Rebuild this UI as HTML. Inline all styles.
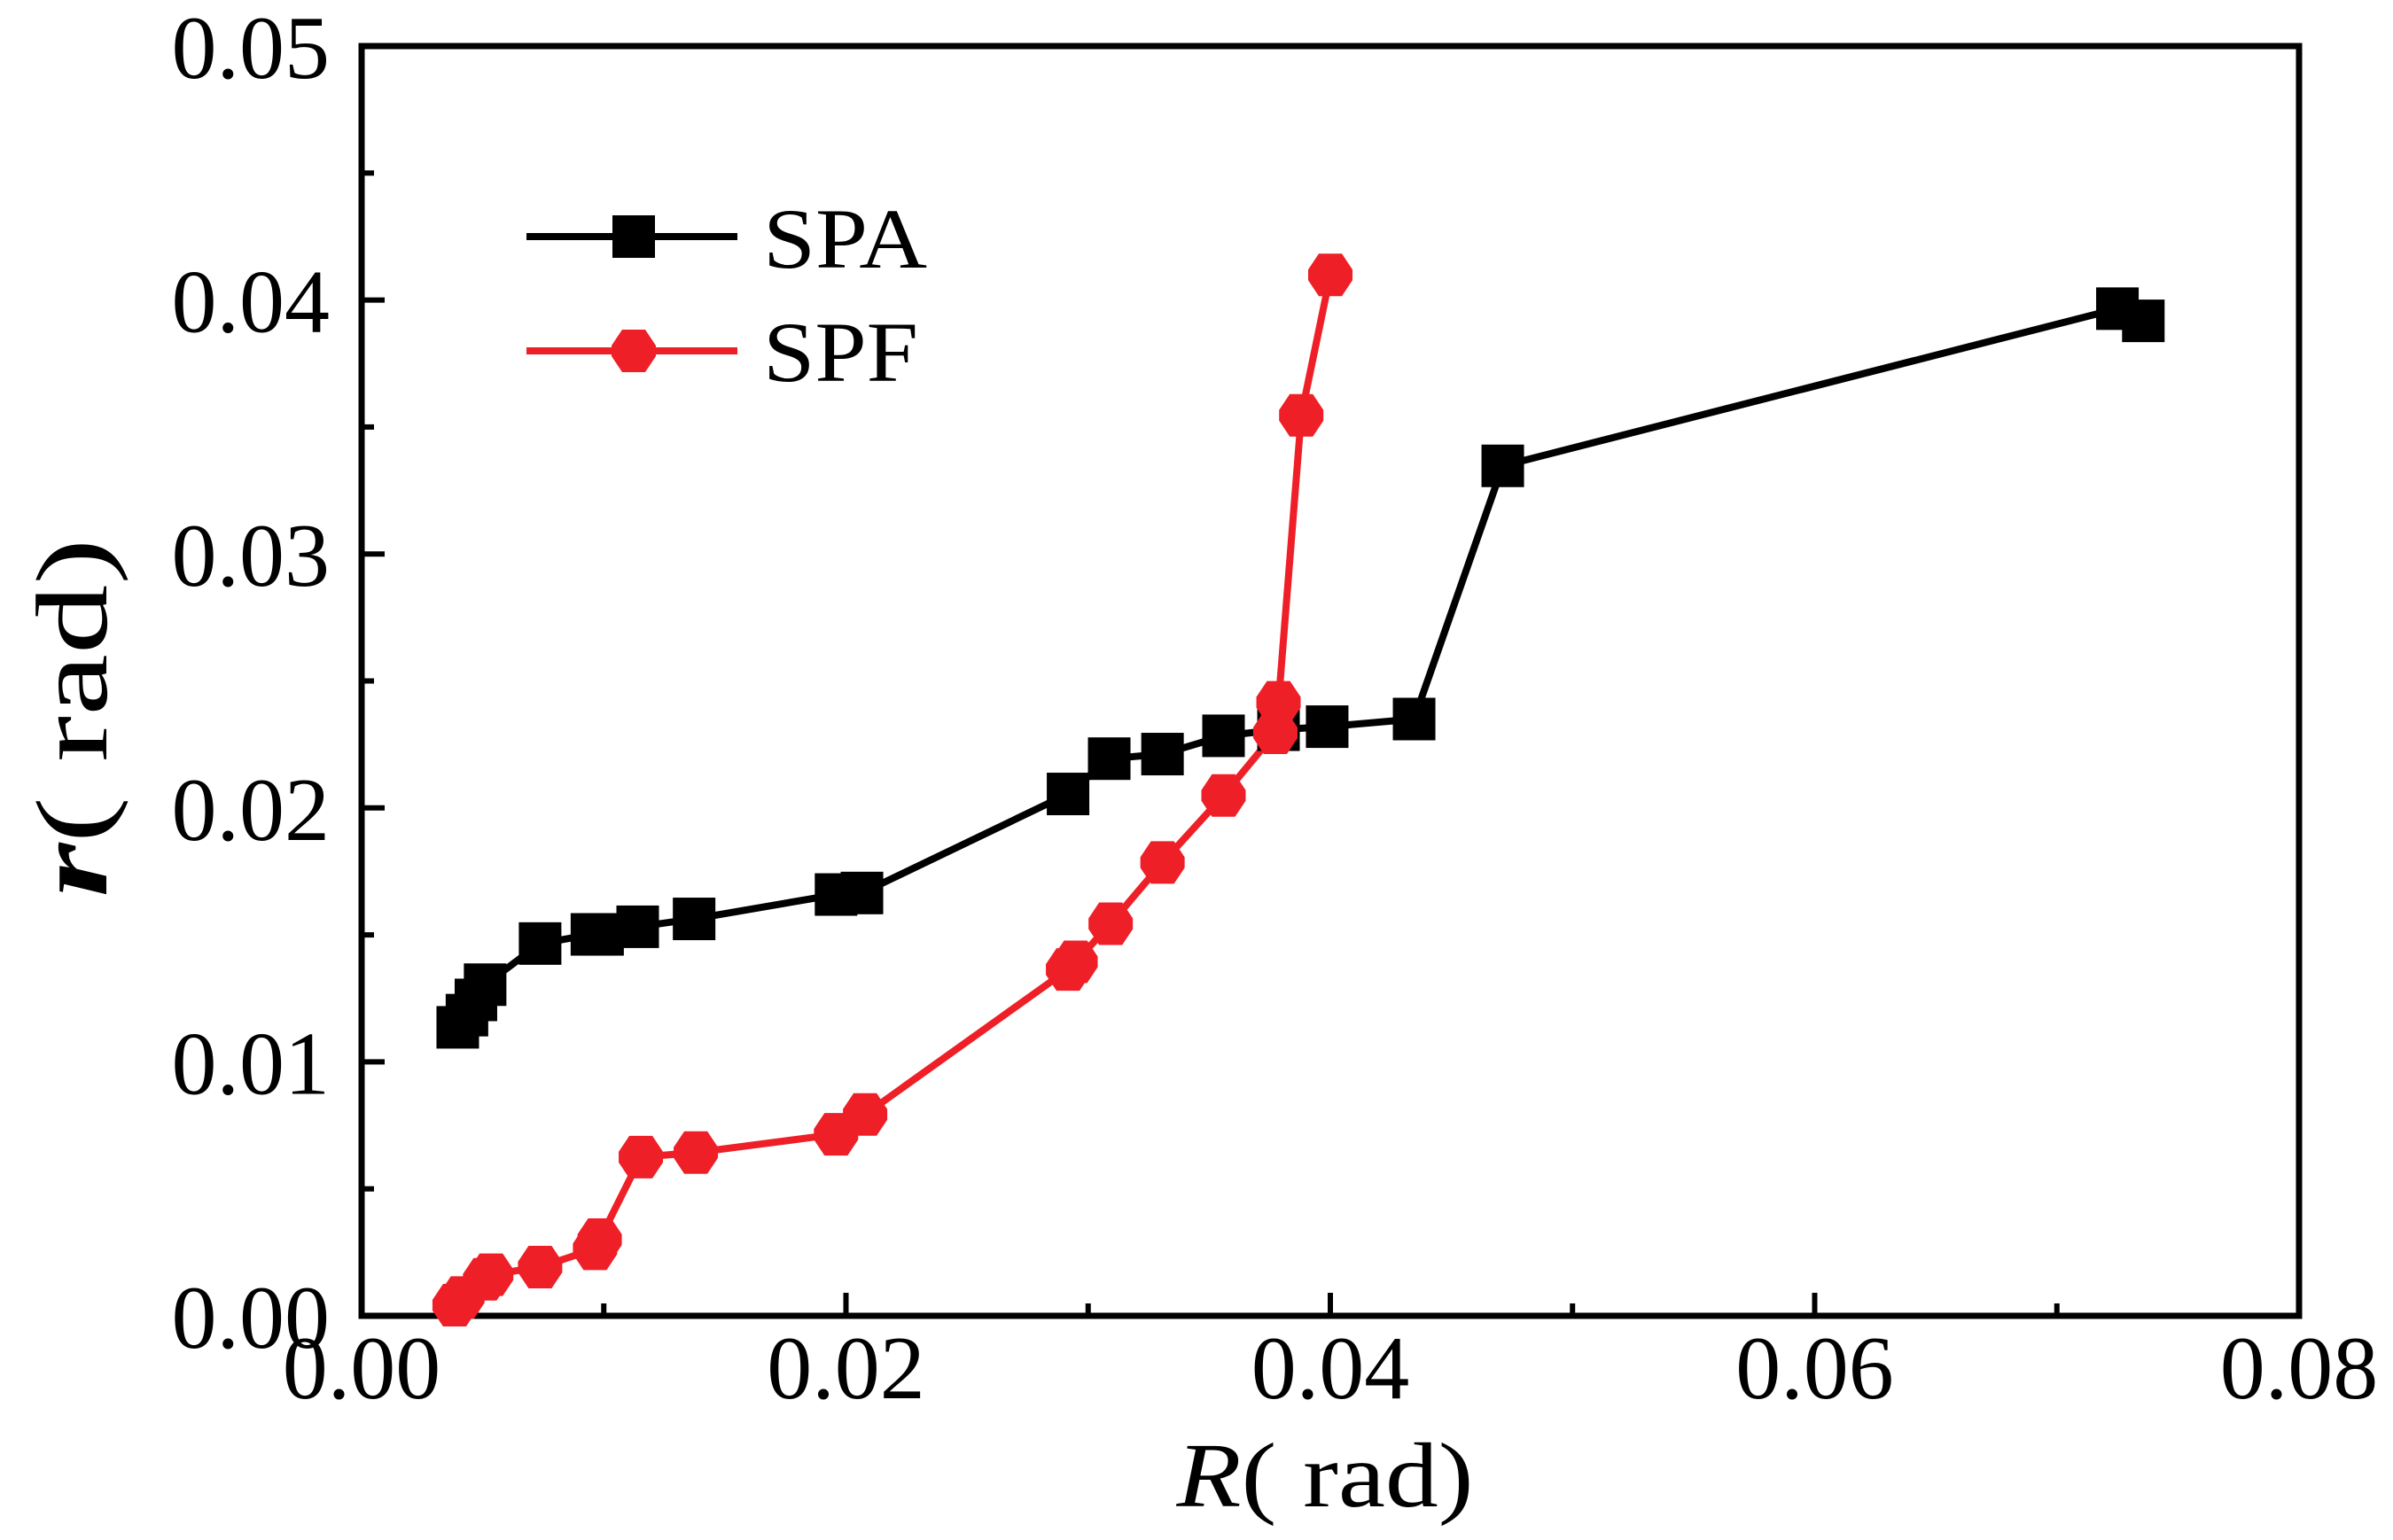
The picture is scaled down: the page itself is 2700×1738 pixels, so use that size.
<!DOCTYPE html>
<html><head><meta charset="utf-8"><style>
html,body{margin:0;padding:0;background:#fff}
svg{display:block}
text{font-family:"Liberation Serif",serif;fill:#000}
</style></head><body>
<svg id="chart" width="2700" height="1738" viewBox="0 0 2700 1738" xmlns="http://www.w3.org/2000/svg">
<g id="axes"></g>
<g id="series"></g>
<g id="legend">
  <line x1="594" y1="267" x2="832" y2="267" stroke="#000" stroke-width="8"/>
  <rect x="691" y="243" width="48" height="48" fill="#000"/>
  <text x="861" y="302" font-size="96" textLength="185" lengthAdjust="spacingAndGlyphs">SPA</text>
  <line x1="594" y1="396" x2="832" y2="396" stroke="#ee1f27" stroke-width="8"/>
  <polygon points="702,372 728,372 740,390 740,402 728,420 702,420 690,402 690,390" fill="#ee1f27"/>
  <text x="861" y="430" font-size="96" textLength="175" lengthAdjust="spacingAndGlyphs">SPF</text>
</g>
<text x="1495" y="1700" font-size="104" text-anchor="middle" textLength="335" lengthAdjust="spacingAndGlyphs"><tspan font-style="italic">R</tspan>(  rad)</text>
<text transform="translate(120,810) rotate(-90)" font-size="115" text-anchor="middle" textLength="405" lengthAdjust="spacingAndGlyphs"><tspan font-style="italic" font-weight="bold">r</tspan>(  rad)</text>
</svg>
<script>
const spaX=[0.00397,0.00435,0.00472,0.0051,0.00737,0.00951,0.00995,0.0114,0.01373,0.01959,0.02066,0.02917,0.03087,0.03307,0.03559,0.03786,0.03987,0.04346,0.04712,0.0725,0.07357];
const spaY=[0.01136,0.01184,0.01244,0.01304,0.01466,0.01502,0.01502,0.01532,0.01563,0.01659,0.01665,0.02055,0.02194,0.02212,0.02284,0.02308,0.0232,0.0235,0.03347,0.03966,0.03918];
const spfX=[0.00384,0.00416,0.0051,0.00535,0.00737,0.00964,0.00983,0.01153,0.0138,0.01959,0.02079,0.02917,0.02948,0.03093,0.03307,0.03559,0.03773,0.03786,0.0388,0.04];
const spfY=[0.00042,0.00072,0.00144,0.00162,0.00192,0.00264,0.003,0.00625,0.00643,0.00715,0.00793,0.01364,0.01394,0.01544,0.01785,0.02049,0.02296,0.02416,0.03546,0.04099];
const xTicks=["0.00","0.02","0.04","0.06","0.08"];
const yTicks=["0.00","0.01","0.02","0.03","0.04","0.05"];
const X0=408,X1=2594,Y0=1485,Y1=52,XMAX=0.08,YMAX=0.05;
const sx=v=>X0+(X1-X0)*v/XMAX, sy=v=>Y0-(Y0-Y1)*v/YMAX;
const NS="http://www.w3.org/2000/svg";
function mk(tag,attrs,parent){const e=document.createElementNS(NS,tag);for(const k in attrs)e.setAttribute(k,attrs[k]);parent.appendChild(e);return e;}
const axes=document.getElementById('axes');
const frame=mk('rect',{x:X0,y:Y1,width:X1-X0,height:Y0-Y1,fill:'none',stroke:'#000','stroke-width':7},axes);


for(let i=0;i<=10;i++){
  const v=i*0.005,y=sy(v),len=i%2?14:26;
  const t=mk('line',{x1:X0,x2:X0+len,y1:y,y2:y,stroke:'#000','stroke-width':6},axes);
  
  
}
for(let i=0;i<=8;i++){
  const v=i*0.01,x=sx(v),len=i%2?14:26;
  const t=mk('line',{x1:x,x2:x,y1:Y0,y2:Y0-len,stroke:'#000','stroke-width':6},axes);
  
  
}
yTicks.forEach((s,i)=>{
  const t=mk('text',{x:372,y:sy(parseFloat(s))+36,'font-size':102,'text-anchor':'end'},axes);
  t.textContent=s;
  
  
});
xTicks.forEach((s,i)=>{
  const t=mk('text',{x:sx(parseFloat(s)),y:1578,'font-size':102,'text-anchor':'middle'},axes);
  t.textContent=s;
  
  
});
const ser=document.getElementById('series');
function line(xs,ys,col,name){
  const p=mk('polyline',{points:xs.map((x,i)=>sx(x)+','+sy(ys[i])).join(' '),fill:'none',stroke:col,'stroke-width':8,'stroke-linejoin':'round'},ser);
  
  
}
line(spaX,spaY,'#000','spa-line');
line(spfX,spfY,'#ee1f27','spf-line');
spaX.forEach((x,i)=>{
  const r=mk('rect',{x:sx(x)-24,y:sy(spaY[i])-24,width:48,height:48,fill:'#000'},ser);
  
  
});
spfX.forEach((x,i)=>{
  const cx=sx(x),cy=sy(spfY[i]);
  const pts=[[-13,-24],[13,-24],[25,-6],[25,6],[13,24],[-13,24],[-25,6],[-25,-6]].map(p=>(cx+p[0])+','+(cy+p[1])).join(' ');
  const m=mk('polygon',{points:pts,fill:'#ee1f27'},ser);
  
  
});
</script>
</body></html>
